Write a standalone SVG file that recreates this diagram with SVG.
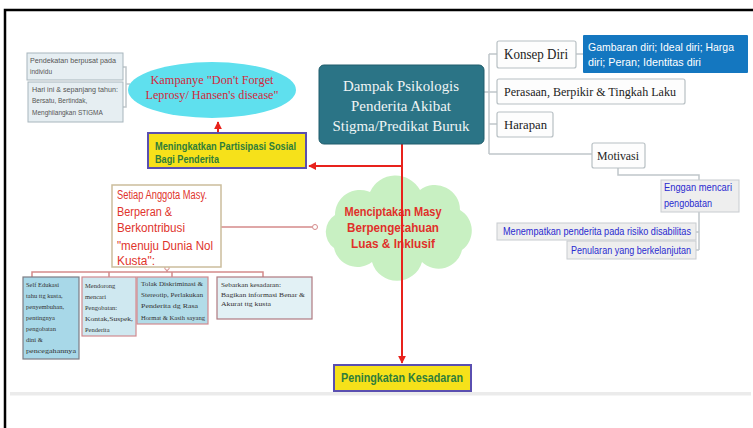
<svg xmlns="http://www.w3.org/2000/svg" width="753" height="428" viewBox="0 0 753 428">
<defs>
<style>
.serif{font-family:"Liberation Serif","DejaVu Serif",serif}
.sans{font-family:"Liberation Sans",Arial,sans-serif}
.gbox{fill:#fdfdfd;stroke:#b8c0c4;stroke-width:1.2}
.gline{fill:none;stroke:#c0c6ca;stroke-width:1.5}
.rline{fill:none;stroke:#d48a8a;stroke-width:1.5}
.red{fill:none;stroke:#e8221c;stroke-width:2}
.ybox{fill:#f6e11a;stroke:#5a4fb0;stroke-width:2}
.ytxt{fill:#2f7d3a;font-weight:bold}
.lbl{fill:#2a2ad0}
.tiny{font-family:"Liberation Serif","DejaVu Serif",serif;font-size:6.5px;fill:#333}
.tl{font-family:"Liberation Sans",Arial,sans-serif;font-size:6.5px;fill:#555}
</style>
<marker id="ah" viewBox="0 0 10 10" refX="9" refY="5" markerWidth="4" markerHeight="4" orient="auto-start-reverse">
<path d="M0 0 L10 5 L0 10 Z" fill="#e8221c"/>
</marker>
</defs>
<rect width="753" height="428" fill="#ffffff"/>
<path d="M5 428 V10 H753" fill="none" stroke="#000" stroke-width="2.5"/>
<rect x="10" y="392" width="741" height="3.5" fill="#ebebeb"/>

<g id="connectors">
<path class="gline" d="M123 67 H126 V107 H123 M126 84 H130"/>
<path class="gline" d="M484 92 H489 M489 54 V154 M489 54 H497 M489 92 H497 M489 124 H497 M489 154 H592"/>
<path class="gline" d="M576 54 H583"/>
<path class="gline" d="M618 168 V175 H699 V180"/>
<path class="gline" d="M699 212 V250 M696 232 H699 M696 250 H699"/>
<path class="rline" d="M221 227 H312"/>
<circle cx="315" cy="227" r="2.5" fill="#fff" stroke="#d48a8a" stroke-width="1"/>
<path class="rline" d="M32 277 V272 H263 V277 M109 272 V277 M172 272 V277 M167 268 V272"/>
<circle cx="167" cy="268" r="2.2" fill="#fff" stroke="#d48a8a" stroke-width="1"/>
<path class="red" d="M218 132 V122" marker-end="url(#ah)"/>
</g>

<g id="cloud">
<path d="M335 215 a25 25 0 0 1 35 -23 a28 28 0 0 1 50 -2 a25 25 0 0 1 40 20 a24 24 0 0 1 2 40 a24 24 0 0 1 -40 12 a26 26 0 0 1 -50 0 a24 24 0 0 1 -38 -14 a20 20 0 0 1 1 -33 Z" fill="#c8f0c2"/>
<g class="sans" font-weight="bold" font-size="13" fill="#e0302a" text-anchor="middle">
<text x="393" y="216" textLength="97" lengthAdjust="spacingAndGlyphs">Menciptakan Masy</text>
<text x="393" y="232" textLength="92" lengthAdjust="spacingAndGlyphs">Berpengetahuan</text>
<text x="393" y="248" textLength="84" lengthAdjust="spacingAndGlyphs">Luas &amp; Inklusif</text>
</g>
</g>

<g id="red-trunk">
<path class="red" d="M402 144 V363" marker-end="url(#ah)"/>
<path class="red" d="M402 166 H309" marker-end="url(#ah)"/>
</g>

<g id="pendekatan">
<rect x="27" y="53" width="96" height="27" fill="#e6eef2" stroke="#a8b6bd" stroke-width="1"/>
<text class="tl" x="30" y="63" textLength="86" lengthAdjust="spacingAndGlyphs">Pendekatan  berpusat pada</text>
<text class="tl" x="30" y="74">individu</text>
</g>
<g id="hari-ini">
<rect x="28" y="82" width="95" height="40" fill="#e6eef2" stroke="#a8b6bd" stroke-width="1"/>
<text class="tl" x="32" y="92" textLength="86" lengthAdjust="spacingAndGlyphs">Hari ini &amp; sepanjang tahun:</text>
<text class="tl" x="32" y="103">Bersatu, Bertindak,</text>
<text class="tl" x="32" y="115">Menghilangkan STIGMA</text>
</g>

<g id="kampanye">
<ellipse cx="212" cy="90" rx="84" ry="28" fill="#5fe0ee"/>
<g class="serif" font-size="13" fill="#d3283c" text-anchor="middle">
<text x="212" y="84" textLength="123" lengthAdjust="spacingAndGlyphs">Kampanye "Don't Forget</text>
<text x="212" y="99" textLength="133" lengthAdjust="spacingAndGlyphs">Leprosy/ Hansen's disease"</text>
</g>
</g>

<g id="partisipasi">
<rect class="ybox" x="148" y="133" width="158" height="35"/>
<text class="sans ytxt" x="155" y="150" font-size="11" textLength="141" lengthAdjust="spacingAndGlyphs">Meningkatkan Partisipasi Sosial</text>
<text class="sans ytxt" x="155" y="163" font-size="11" textLength="64" lengthAdjust="spacingAndGlyphs">Bagi Penderita</text>
</g>

<g id="dampak">
<rect x="319" y="65" width="165" height="79" rx="5" fill="#2b7486" stroke="#205d6c" stroke-width="1"/>
<g class="serif" font-size="15" fill="#f0f5f5" text-anchor="middle">
<text x="401" y="91" textLength="116" lengthAdjust="spacingAndGlyphs">Dampak Psikologis</text>
<text x="401" y="111" textLength="100" lengthAdjust="spacingAndGlyphs">Penderita Akibat</text>
<text x="401" y="131" textLength="137" lengthAdjust="spacingAndGlyphs">Stigma/Predikat Buruk</text>
</g>
</g>

<g id="konsep">
<rect class="gbox" x="497" y="41" width="79" height="27" rx="2"/>
<text class="serif" x="504" y="59" font-size="14" fill="#222" textLength="64" lengthAdjust="spacingAndGlyphs">Konsep Diri</text>
</g>
<g id="gambaran">
<rect x="583" y="35" width="165" height="38" rx="1" fill="#1477c0"/>
<g class="sans" font-size="11.5" fill="#ffffff">
<text x="588" y="51" textLength="146" lengthAdjust="spacingAndGlyphs">Gambaran diri; Ideal diri; Harga</text>
<text x="588" y="66" textLength="113" lengthAdjust="spacingAndGlyphs">diri; Peran; Identitas diri</text>
</g>
</g>
<g id="perasaan">
<rect class="gbox" x="497" y="79" width="188" height="25" rx="2"/>
<text class="serif" x="504" y="96" font-size="13" fill="#222" textLength="172" lengthAdjust="spacingAndGlyphs">Perasaan, Berpikir &amp;  Tingkah Laku</text>
</g>
<g id="harapan">
<rect class="gbox" x="497" y="112" width="56" height="25" rx="2"/>
<text class="serif" x="504" y="129" font-size="13" fill="#222" textLength="43" lengthAdjust="spacingAndGlyphs">Harapan</text>
</g>
<g id="motivasi">
<rect class="gbox" x="592" y="143" width="53" height="25" rx="2"/>
<text class="serif" x="597" y="160" font-size="13" fill="#222" textLength="42" lengthAdjust="spacingAndGlyphs">Motivasi</text>
</g>
<g id="enggan">
<rect x="661" y="180" width="78" height="32" fill="#eeeeee" stroke="#c8ccd0" stroke-width="1"/>
<text class="sans lbl" x="664" y="191" font-size="10.5" textLength="68" lengthAdjust="spacingAndGlyphs">Enggan  mencari</text>
<text class="sans lbl" x="664" y="207" font-size="10.5" textLength="48" lengthAdjust="spacingAndGlyphs">pengobatan</text>
</g>
<g id="menempatkan">
<rect x="497" y="223" width="199" height="17" fill="#eeeeee" stroke="#c8ccd0" stroke-width="1"/>
<text class="sans lbl" x="503" y="235" font-size="10.5" textLength="188" lengthAdjust="spacingAndGlyphs">Menempatkan penderita pada risiko disabilitas</text>
</g>
<g id="penularan">
<rect x="567" y="241" width="129" height="18" fill="#eeeeee" stroke="#c8ccd0" stroke-width="1"/>
<text class="sans lbl" x="571" y="254" font-size="10.5" textLength="120" lengthAdjust="spacingAndGlyphs">Penularan yang berkelanjutan</text>
</g>

<g id="setiap">
<rect x="112" y="185" width="109" height="82" fill="#ffffff" stroke="#cbbd9c" stroke-width="1.5"/>
<g class="sans" font-size="12" fill="#e0342c">
<text x="117" y="199" textLength="90" lengthAdjust="spacingAndGlyphs">Setiap Anggota Masy.</text>
<text x="117" y="216" textLength="55" lengthAdjust="spacingAndGlyphs">Berperan &amp;</text>
<text x="117" y="232" textLength="68" lengthAdjust="spacingAndGlyphs">Berkontribusi</text>
<text x="117" y="250" textLength="96" lengthAdjust="spacingAndGlyphs">"menuju Dunia Nol</text>
<text x="117" y="265" textLength="38" lengthAdjust="spacingAndGlyphs">Kusta":</text>
</g>
</g>

<g id="self-edukasi">
<rect x="23" y="277" width="56" height="82" fill="#a8d8e8" stroke="#7c7c84" stroke-width="1.2"/>
<text class="tiny" x="26" y="287">Self Edukasi</text>
<text class="tiny" x="26" y="298">tahu ttg kusta,</text>
<text class="tiny" x="26" y="309">penyembuhan,</text>
<text class="tiny" x="26" y="320">pentingnya</text>
<text class="tiny" x="26" y="331">pengobatan</text>
<text class="tiny" x="26" y="342">dini &amp;</text>
<text class="tiny" x="26" y="353" textLength="50" lengthAdjust="spacingAndGlyphs">pencegahannya</text>
</g>
<g id="mendorong">
<rect x="82" y="277" width="54" height="59" fill="#cfe8f0" stroke="#d08a90" stroke-width="1.2"/>
<text class="tiny" x="85" y="288">Mendorong</text>
<text class="tiny" x="85" y="299">mencari</text>
<text class="tiny" x="85" y="310">Pengobatan:</text>
<text class="tiny" x="85" y="321" textLength="48" lengthAdjust="spacingAndGlyphs">Kontak,Suspek,</text>
<text class="tiny" x="85" y="332">Penderita</text>
</g>
<g id="tolak">
<rect x="137" y="277" width="71" height="47" fill="#b2dce8" stroke="#d08a90" stroke-width="1.2"/>
<text class="tiny" x="141" y="286" textLength="62" lengthAdjust="spacingAndGlyphs">Tolak Diskriminasi &amp;</text>
<text class="tiny" x="141" y="297" textLength="62" lengthAdjust="spacingAndGlyphs">Stereotip, Perlakukan</text>
<text class="tiny" x="141" y="308" textLength="57" lengthAdjust="spacingAndGlyphs">Penderita dg Rasa</text>
<text class="tiny" x="141" y="320" textLength="64" lengthAdjust="spacingAndGlyphs">Hormat &amp; Kasih sayang</text>
</g>
<g id="sebarkan">
<rect x="217" y="277" width="95" height="42" fill="#e2f1f5" stroke="#b07a80" stroke-width="1.2"/>
<text class="tiny" x="221" y="287" textLength="60" lengthAdjust="spacingAndGlyphs">Sebarkan kesadaran:</text>
<text class="tiny" x="221" y="297" textLength="84" lengthAdjust="spacingAndGlyphs">Bagikan informasi Benar &amp;</text>
<text class="tiny" x="221" y="306" textLength="50" lengthAdjust="spacingAndGlyphs">Akurat ttg kusta</text>
</g>

<g id="peningkatan">
<rect class="ybox" x="334" y="365" width="137" height="26"/>
<text class="sans ytxt" x="402" y="382" font-size="13" text-anchor="middle" textLength="122" lengthAdjust="spacingAndGlyphs">Peningkatan Kesadaran</text>
</g>
</svg>
